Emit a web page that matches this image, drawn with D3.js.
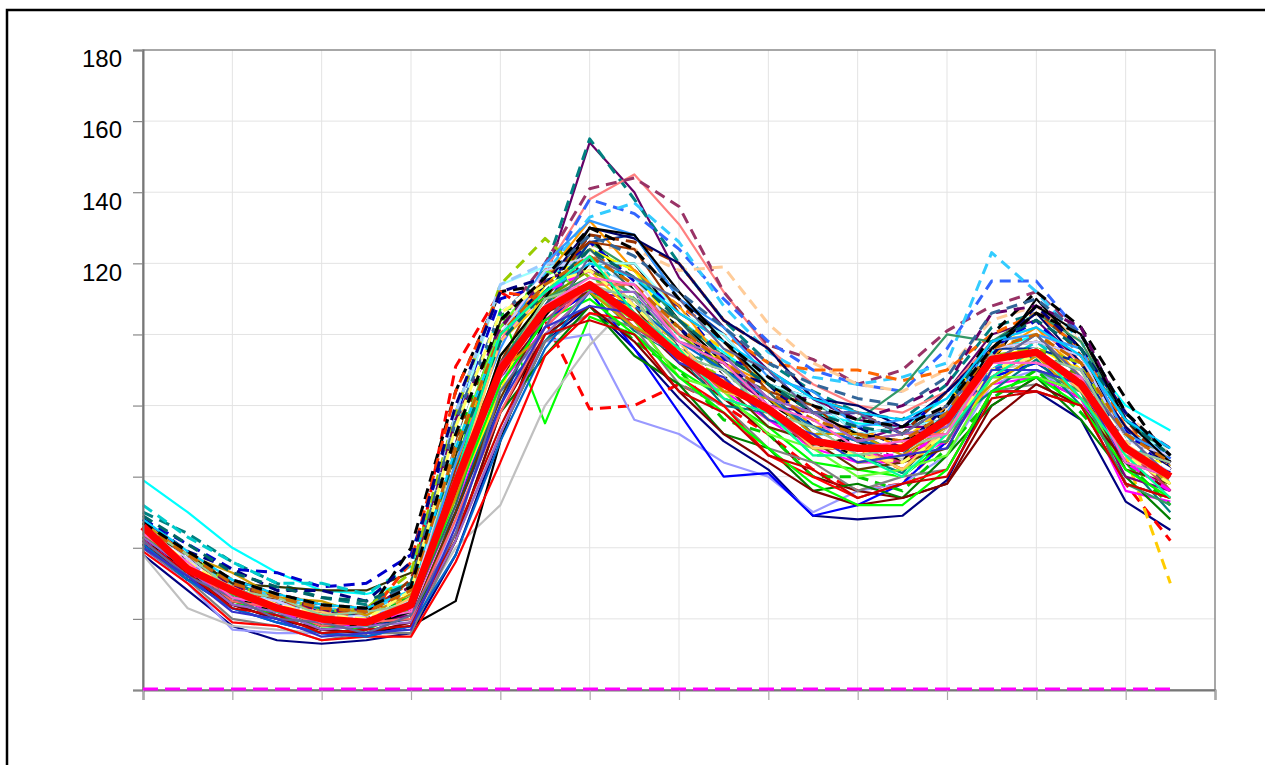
<!DOCTYPE html>
<html><head><meta charset="utf-8">
<script src="https://cdn.jsdelivr.net/npm/d3@7"></script>
<style>body{margin:0;background:#fff;}svg{display:block;}</style>
</head><body>
<svg id="c" width="1265" height="765"></svg>
<script>
const hours = d3.range(0, 24);
const yTickValues = [0,20,40,60,80,100,120,140,160,180];
const yLabelValues = [120,140,160,180];
const xTickValues = [0,2,4,6,8,10,12,14,16,18,20,22,24];

const meanValues = [46,34,28,23,20,19,24,58,90,107,114,105,94,86,79,70,68,68,76,93,95,86,68,60];
const zeroValues = [0,0,0,0,0,0,0,0,0,0,0,0,0,0,0,0,0,0,0,0,0,0,0,0];

const seriesColors = ["#00ffff","#000080","#660066","#008080","#ff8080","#993366","#3366ff","#33ccff","#ffcc99","#ff6600",
 "#00ff00","#ff0000","#9999ff","#c0c0c0","#ffcc00","#800000","#000000","#339966","#0000ff","#ff00ff",
 "#008080","#333300","#0000cc","#00cccc","#000000","#ffff00","#ff9900","#003399","#ff99cc","#99ffff",
 "#993300","#993300","#99cc00","#00cc00","#ffffff","#808080","#008000","#800080","#000066","#99ccff",
 "#ff0000","#ff3300","#66ff33","#336666","#660066","#000080","#ffcc00","#3399ff","#669900","#663300",
 "#800000","#cc3366","#ccccff","#000000","#00ff00","#336699","#339966","#ff00ff","#ffcc66","#ffffff",
 "#0066cc","#cc9900","#ff6666","#006666","#9966cc","#00ccff","#cc0000","#ffff66","#666699","#99cc99",
 "#cc6600","#3333cc","#00ff99","#ff66cc","#000000"];
const seriesDashed = [0,0,0,1,0,1,1,1,1,1, 0,1,0,0,1,0,0,0,0,0, 0,0,1,1,1,0,0,0,0,0, 0,1,1,1,1,0,0,0,0,1,
 0,1,0,0,1,1,0,0,0,0, 0,0,0,0,0,1,0,1,0,1, 0,0,0,1,0,0,0,1,0,0, 1,0,0,0,1];
const seriesValues = [
 [59,50,40,33,28,27,30,62,100,115,124,118,104,95,86,78,75,74,82,95,100,96,80,73],
 [38,28,18,14,13,14,16,38,72,98,108,96,82,70,62,49,48,49,59,84,84,76,53,45],
 [48,38,30,25,22,21,26,70,102,115,154,140,116,102,90,82,76,74,84,100,104,92,74,63],
 [50,44,36,30,26,24,30,74,105,118,155,138,120,104,92,84,78,76,86,102,106,96,76,66],
 [44,35,28,24,21,20,25,64,98,118,138,145,131,112,96,86,80,78,84,98,102,92,74,64],
 [47,38,30,26,23,22,28,72,104,120,141,144,136,112,97,93,86,90,101,108,112,100,78,66],
 [45,36,29,25,22,21,27,68,102,116,138,134,124,110,98,90,86,84,96,115,115,100,78,65],
 [43,36,30,26,23,22,28,70,104,117,133,137,126,108,95,88,86,88,92,123,112,98,76,64],
 [46,37,29,24,21,20,26,66,100,115,125,124,118,119,103,92,86,84,90,104,108,98,78,66],
 [45,38,31,27,24,23,30,74,104,112,122,118,108,100,92,90,90,87,90,100,106,96,74,64],
 [42,32,25,21,18,17,22,62,107,75,105,100,90,82,74,64,62,60,70,88,92,84,64,56],
 [46,38,30,25,22,21,28,91,112,104,79,80,86,80,72,62,56,58,70,90,94,84,58,42],
 [40,30,17,16,16,15,18,48,88,98,100,76,72,64,60,50,56,58,66,86,90,82,62,54],
 [38,23,18,17,16,16,19,40,52,80,97,110,100,90,80,70,66,65,72,90,92,84,66,58],
 [47,36,28,24,21,20,26,68,100,112,118,112,104,96,86,76,72,70,80,98,100,90,66,30],
 [44,34,27,22,20,19,23,56,88,104,112,104,92,82,72,60,56,54,58,80,88,82,64,56],
 [41,31,24,20,17,16,18,25,70,105,120,120,104,92,80,70,66,64,72,92,110,96,70,58],
 [45,36,29,24,21,20,24,60,92,110,126,118,104,94,86,80,76,85,100,98,106,98,76,66],
 [40,31,23,19,16,15,18,50,86,104,112,96,78,60,61,49,52,58,70,88,92,84,64,56],
 [42,33,26,22,19,18,22,52,86,102,114,106,94,84,76,68,64,64,70,86,88,82,56,53],
 [46,36,31,24,23,20,26,50,84,98,113,101,94,80,78,66,66,61,74,84,93,80,64,50],
 [45,38,30,29,28,28,33,66,104,111,121,106,98,84,80,69,71,64,76,88,96,84,70,56],
 [48,41,34,33,29,30,38,76,110,114,126,115,108,93,90,78,78,72,84,96,104,90,73,61],
 [52,43,36,30,30,27,35,72,106,108,122,110,100,86,82,72,72,66,78,90,98,88,72,58],
 [44,37,27,25,20,21,40,84,112,114,128,112,102,88,82,70,70,64,80,100,112,102,82,64],
 [43,35,26,24,19,20,22,54,84,114,124,118,100,92,78,74,66,69,72,94,96,90,68,63],
 [44,34,29,23,22,19,27,62,102,116,132,118,108,92,86,74,74,68,80,94,102,88,74,62],
 [42,34,24,22,17,18,20,50,80,108,126,128,110,100,86,82,72,74,76,96,96,92,68,64],
 [45,34,28,22,21,18,23,52,90,106,122,108,98,82,78,68,68,62,72,88,96,82,66,54],
 [47,38,28,25,20,21,25,74,114,119,120,120,106,100,86,82,72,74,76,98,100,96,72,68],
 [44,35,26,24,19,20,23,62,92,116,126,124,106,98,84,80,70,72,74,96,98,94,70,66],
 [46,36,31,25,24,21,31,70,102,110,128,126,120,104,96,82,78,72,84,96,108,94,76,62],
 [47,39,29,27,22,23,33,78,114,127,116,110,94,88,76,72,64,66,70,94,96,92,70,66],
 [42,34,25,23,18,19,27,68,106,110,112,98,90,76,72,60,60,56,68,82,90,78,64,52],
 [44,34,29,23,22,19,29,68,106,108,116,102,94,82,78,66,66,60,72,86,94,84,70,58],
 [40,31,20,18,14,16,16,42,72,98,106,102,86,80,68,64,56,60,62,84,86,80,58,54],
 [41,31,26,20,19,16,21,42,78,94,108,94,86,72,68,56,58,54,66,80,88,76,60,48],
 [43,35,25,23,18,19,21,60,90,108,112,110,94,90,80,78,70,74,74,88,88,84,60,56],
 [45,34,28,22,21,18,25,60,100,114,130,127,120,104,96,82,80,74,84,96,106,92,74,62],
 [44,36,27,25,20,21,27,78,114,120,120,114,96,90,78,74,66,68,72,94,94,90,66,62],
 [39,30,19,18,14,15,15,36,64,94,106,104,88,80,66,60,54,58,62,84,84,80,58,54],
 [45,35,30,24,23,20,36,84,112,110,114,102,96,84,80,68,68,62,74,88,96,84,70,56],
 [43,35,26,24,19,20,23,68,102,118,112,104,88,84,72,68,60,62,66,88,88,84,62,58],
 [42,32,27,21,20,17,23,52,92,108,124,112,104,90,84,72,72,66,78,92,100,86,70,56],
 [46,38,29,27,22,23,29,76,102,116,118,112,96,92,82,82,76,80,86,106,108,102,76,68],
 [48,39,34,28,28,25,36,80,112,116,120,108,102,90,86,74,74,68,80,94,108,96,78,62],
 [43,33,28,22,21,18,26,58,98,110,118,106,98,84,80,68,68,62,72,86,94,82,68,56],
 [44,36,27,25,20,21,24,64,96,120,132,128,110,102,88,84,74,76,78,98,100,96,72,66],
 [42,33,26,22,19,18,23,56,94,110,118,112,100,90,82,74,70,68,74,92,96,88,68,60],
 [43,34,25,23,18,19,20,50,82,106,112,108,92,86,74,70,62,64,68,90,90,86,62,58],
 [41,32,24,20,17,16,19,42,78,100,108,98,84,72,64,56,52,54,58,76,86,80,64,56],
 [44,34,29,23,22,19,25,56,92,104,114,102,94,82,78,68,68,64,74,88,96,84,68,56],
 [45,37,27,25,20,21,25,68,100,118,122,116,100,94,82,78,70,72,74,96,98,94,70,66],
 [43,33,26,22,19,18,22,56,94,110,130,128,112,98,86,78,72,70,76,96,108,100,76,64],
 [44,34,27,23,20,19,23,54,86,104,110,100,88,78,68,58,52,52,62,84,88,80,62,54],
 [46,38,31,27,24,23,30,76,106,116,128,122,112,102,92,86,82,80,88,106,110,100,78,66],
 [44,35,26,24,19,20,23,60,90,110,116,112,96,90,78,74,66,68,70,90,90,84,58,52],
 [42,33,26,22,19,18,23,60,98,112,118,108,96,86,78,70,66,66,72,90,94,86,64,56],
 [45,35,29,23,22,19,26,58,98,112,122,108,98,84,80,68,68,62,74,88,96,84,70,58],
 [46,36,28,24,21,20,28,72,106,116,120,112,98,88,80,72,68,66,74,92,96,88,70,62],
 [41,31,23,19,16,15,18,38,70,96,112,108,98,90,82,74,70,68,74,90,94,86,68,60],
 [47,38,33,26,25,21,27,54,90,100,112,102,96,84,82,72,72,66,74,86,94,82,68,58],
 [44,35,25,23,18,19,20,48,78,102,114,114,100,94,82,78,70,72,72,92,92,88,66,60],
 [49,41,33,29,26,25,30,66,98,112,124,116,104,94,86,78,74,72,80,98,104,96,76,66],
 [43,34,24,22,17,18,19,42,72,100,112,112,98,94,82,78,70,72,74,94,94,90,68,64],
 [48,39,31,27,24,23,28,68,100,112,120,116,106,98,90,82,78,76,82,98,102,94,76,68],
 [42,33,23,21,16,17,18,44,74,100,104,100,84,78,66,62,54,58,60,82,84,80,58,54],
 [45,36,28,24,21,20,28,74,106,114,118,108,96,86,78,70,66,64,72,90,94,86,66,58],
 [42,32,26,20,19,16,21,44,84,102,122,116,110,96,90,78,78,72,80,92,100,88,72,60],
 [46,38,28,26,21,22,24,60,90,110,114,110,94,90,78,74,66,68,72,94,94,90,68,64],
 [46,38,30,26,23,22,28,68,100,114,122,114,102,92,84,76,72,70,78,96,100,92,72,64],
 [40,32,22,20,15,16,17,46,80,102,108,106,92,88,76,72,64,66,68,90,90,86,64,60],
 [45,34,28,22,21,18,25,60,100,112,122,106,96,82,78,66,66,60,72,88,96,82,66,54],
 [44,36,26,24,19,20,22,58,88,108,116,114,98,92,80,76,68,70,72,92,92,88,64,60],
 [47,39,31,27,24,23,29,72,104,116,130,124,110,98,88,80,76,74,80,96,106,100,78,66]
];

const svg = d3.select("#c");
const plotLeft = 143, plotRight = 1215, plotTop = 50, plotBottom = 690;
const x = d3.scaleLinear().domain([0, 24]).range([plotLeft, plotRight]);
const y = d3.scaleLinear().domain([0, 180]).range([plotBottom, plotTop]);

// outer frame
svg.append("rect").attr("x", 7).attr("y", 10).attr("width", 1300).attr("height", 800)
  .attr("fill", "none").attr("stroke", "#000").attr("stroke-width", 2.5);

// grid
const grid = svg.append("g").attr("stroke", "#e3e3e3").attr("stroke-width", 1);
grid.selectAll("line.h").data(yTickValues.filter(v => v > 0 && v < 180)).join("line").attr("class", "h")
  .attr("x1", plotLeft).attr("x2", plotRight).attr("y1", d => y(d)).attr("y2", d => y(d));
grid.selectAll("line.v").data(xTickValues.filter(v => v > 0 && v < 24)).join("line").attr("class", "v")
  .attr("y1", plotTop).attr("y2", plotBottom).attr("x1", d => x(d)).attr("x2", d => x(d));

// plot box
svg.append("rect").attr("x", plotLeft).attr("y", plotTop).attr("width", plotRight - plotLeft).attr("height", plotBottom - plotTop)
  .attr("fill", "none").attr("stroke", "#8a8a8a").attr("stroke-width", 1.5);

const line = d3.line().x((d, i) => x(hours[i])).y(d => y(d));

const gSeries = svg.append("g").attr("fill", "none").attr("stroke-linejoin", "round");
seriesValues.forEach((vals, i) => {
  const dashed = seriesDashed[i] === 1;
  gSeries.append("path").datum(vals).attr("d", line)
    .attr("stroke", seriesColors[i])
    .attr("stroke-width", dashed ? 3 : 2.2)
    .attr("stroke-dasharray", dashed ? "11,7" : null);
});

svg.append("path").datum(meanValues).attr("d", line).attr("fill", "none")
  .attr("stroke", "#ff0000").attr("stroke-width", 7.5).attr("stroke-linejoin", "round");

// axes
const yAxis = d3.axisLeft(y).tickValues(yTickValues).tickSize(10).tickPadding(11)
  .tickFormat(d => yLabelValues.includes(d) ? String(d) : "");
const gy = svg.append("g").attr("transform", `translate(${plotLeft},0)`).call(yAxis);
gy.select(".domain").attr("stroke", "#777").attr("stroke-width", 2);
gy.selectAll(".tick line").attr("stroke", "#888").attr("stroke-width", 1.2);
gy.selectAll("text").attr("font-family", "Liberation Sans, Arial, sans-serif")
  .attr("font-size", 24).attr("fill", "#000").attr("dy", "0.7em");

const xAxis = d3.axisBottom(x).tickValues(xTickValues).tickSize(10).tickFormat("");
const gx = svg.append("g").attr("transform", `translate(0,${plotBottom})`).call(xAxis);
gx.select(".domain").attr("stroke", "#777").attr("stroke-width", 2);
gx.selectAll(".tick line").attr("stroke", "#aaa").attr("stroke-width", 1.2);

// zero line drawn over the axis
svg.append("path").datum(zeroValues).attr("d", line).attr("fill", "none")
  .attr("transform", "translate(0,-1)")
  .attr("stroke", "#ff00ff").attr("stroke-width", 3).attr("stroke-dasharray", "15,7");
</script>
</body></html>
